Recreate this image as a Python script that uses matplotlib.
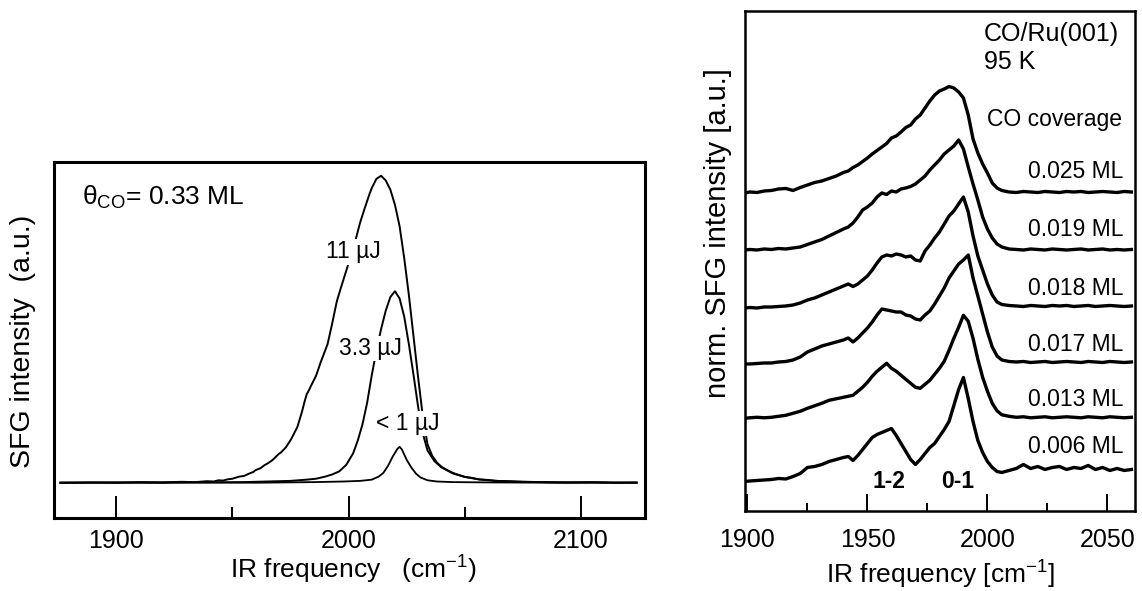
import numpy as np
import matplotlib
matplotlib.use("Agg")
import matplotlib.pyplot as plt
from matplotlib.ticker import MultipleLocator

plt.rcParams['font.family'] = ['Liberation Sans', 'DejaVu Sans']
plt.rcParams['mathtext.fontset'] = 'custom'
plt.rcParams['mathtext.rm'] = 'Liberation Sans'
plt.rcParams['mathtext.it'] = 'Liberation Sans:italic'
plt.rcParams['mathtext.bf'] = 'Liberation Sans:bold'

# left panel: theta_CO = 0.33 ML, three IR pulse energies (peak of 11 uJ = 1)
freq_11uJ = [1876, 1890, 1900, 1910, 1920, 1928, 1934, 1939, 1942, 1944,
             1946, 1948, 1950, 1953, 1955, 1957, 1959, 1960, 1962, 1964,
             1965, 1967, 1968, 1970, 1971, 1973, 1975, 1976, 1978, 1980,
             1981, 1982, 1983, 1984, 1986, 1988, 1990, 1991, 1993, 1995,
             1997, 1999, 2001, 2003, 2005, 2007, 2009, 2010, 2012, 2014,
             2016, 2018, 2020, 2022, 2024, 2026, 2028, 2030, 2032, 2034,
             2036, 2038, 2040, 2042, 2044, 2046, 2048, 2050, 2053, 2056,
             2060, 2064, 2068, 2075, 2085, 2095, 2105, 2115, 2124]
sfg_11uJ = [0.0, 0.001, 0.0, 0.002, 0.001, 0.003, 0.002, 0.005, 0.004, 0.008,
            0.007, 0.011, 0.013, 0.02, 0.022, 0.029, 0.035, 0.041, 0.047, 0.058,
            0.062, 0.072, 0.079, 0.094, 0.099, 0.115, 0.138, 0.152, 0.182, 0.232,
            0.262, 0.288, 0.302, 0.318, 0.348, 0.392, 0.432, 0.452, 0.52, 0.592,
            0.642, 0.69, 0.74, 0.79, 0.848, 0.895, 0.94, 0.96, 0.99, 1.0,
            0.985, 0.955, 0.905, 0.835, 0.73, 0.61, 0.475, 0.34, 0.215, 0.125,
            0.088, 0.066, 0.052, 0.043, 0.035, 0.029, 0.024, 0.019, 0.016, 0.011,
            0.009, 0.006, 0.005, 0.003, 0.002, 0.001, 0.002, 0.0, 0.001]

freq_3uJ = [1876, 1900, 1920, 1940, 1955, 1965, 1975, 1982, 1986, 1990,
            1993, 1996, 1999, 2002, 2004, 2006, 2008, 2010, 2012, 2014,
            2016, 2018, 2020, 2022, 2024, 2026, 2028, 2030, 2032, 2034,
            2037, 2040, 2045, 2050, 2056, 2063, 2075, 2090, 2105, 2124]
sfg_3uJ = [0.0, 0.001, 0.0, 0.001, 0.002, 0.004, 0.006, 0.01, 0.013, 0.02,
           0.027, 0.037, 0.058, 0.096, 0.138, 0.19, 0.26, 0.35, 0.43, 0.5,
           0.56, 0.605, 0.624, 0.6, 0.54, 0.45, 0.35, 0.245, 0.16, 0.105,
           0.07, 0.05, 0.03, 0.019, 0.011, 0.006, 0.003, 0.001, 0.001, 0.0]

freq_1uJ = [1876, 1900, 1930, 1960, 1985, 1998, 2005, 2010, 2013, 2015,
            2017, 2019, 2021, 2022, 2023, 2025, 2027, 2029, 2031, 2034,
            2038, 2045, 2060, 2090, 2124]
sfg_1uJ = [0.0, 0.0, 0.001, 0.0, 0.002, 0.004, 0.006, 0.01, 0.02, 0.032,
           0.055, 0.085, 0.11, 0.117, 0.108, 0.075, 0.05, 0.03, 0.017, 0.008,
           0.004, 0.002, 0.001, 0.0, 0.0]

pulse_labels = ["11 µJ", "3.3 µJ", "< 1 µJ"]

# right panel: normalised spectra for low CO coverages on Ru(001), 95 K
freq_cov = [1899, 1901, 1904, 1907, 1910, 1913, 1916, 1919, 1922, 1925,
            1928, 1931, 1934, 1937, 1940, 1942, 1944, 1946, 1948, 1950,
            1952, 1954, 1956, 1958, 1960, 1962, 1964, 1966, 1968, 1970,
            1972, 1974, 1976, 1978, 1980, 1982, 1984, 1986, 1988, 1990,
            1992, 1994, 1996, 1998, 2000, 2002, 2004, 2006, 2009, 2012,
            2015, 2018, 2021, 2024, 2027, 2030, 2033, 2036, 2039, 2042,
            2045, 2048, 2051, 2054, 2057, 2060]
coverage_labels = ["0.025 ML", "0.019 ML", "0.018 ML", "0.017 ML", "0.013 ML", "0.006 ML"]

sfg_0025 = [0, 1, 0.5, 2, 2.5, 4, 4.5, 2.5, 5.5, 8,
            10.5, 12, 14.5, 17, 20.5, 22, 25.5, 28, 31.5, 35,
            39, 42.5, 46, 49.5, 55, 57, 61, 65.5, 68, 74,
            78, 85, 92, 98, 102, 104, 106.5, 105, 101, 95,
            78, 54, 40, 29, 20, 10, 5, 2.5, 1, 0.5,
            1.5, 1, 0.5, 1.5, 1, 0.5, 1.5, 1, 1.5, 0.5,
            1, 1.5, 1, 0.5, 1.5, 1]
sfg_0019 = [0, 0.5, 0, 1, 0.5, 1.5, 1, 2, 3, 5.5,
            8, 10.5, 14, 17.5, 21, 23, 27, 33, 40, 43,
            47, 53, 57, 55.5, 59, 58, 61, 62, 63.5, 66,
            70, 74, 80, 85, 90, 96, 100, 104, 110, 101,
            83, 66, 50, 33, 21, 12, 6, 3, 1, 0.5,
            0, 1, 0.5, 0, 1, 0.5, 0, 0.5, 1, 0,
            0.5, 1, 0, 0.5, 0, 0.5]
sfg_0018 = [0, 0.5, 0, 1, 1, 1.5, 2, 3, 5, 8,
            10, 13, 16, 19, 22, 24, 21.5, 24, 28, 32,
            38, 45, 51, 53, 52, 54, 53, 51, 52, 48,
            47, 57, 63, 70, 76, 84, 92, 97, 104, 111,
            96, 72, 52, 38, 24, 13, 6, 3.5, 2.5, 2,
            1.5, 2.5, 2, 1.5, 2.5, 2, 2.5, 1.5, 2, 2.5,
            1.5, 2, 2.5, 2, 1.5, 2]
sfg_0017 = [0, 0, 0.5, 1, 1, 2, 2.5, 4, 7, 12,
            15, 18, 20, 22, 24, 26, 22, 26, 31, 36,
            42, 49, 55, 54, 53, 52, 52, 49, 48, 45,
            44, 49, 53, 60, 68, 76, 86, 93, 100, 104,
            109, 86, 68, 50, 32, 17, 8, 4, 2.5, 2,
            2.5, 1.5, 2, 2.5, 1.5, 2, 2.5, 2, 1.5, 2.5,
            2, 1.5, 2.5, 2, 1.5, 2]
sfg_0013 = [0, 0.5, 1, 0.5, 1, 2, 3, 5, 7, 10,
            12.5, 15, 18, 19.5, 21, 22, 23, 27, 31, 36,
            42, 47, 51, 55, 50, 47, 43, 39, 35, 31,
            30, 34, 38, 44, 50, 57, 68, 80, 91, 103,
            97, 80, 59, 41, 27, 15, 7.5, 3.5, 2, 1,
            1.5, 0.5, 1, 1.5, 0.5, 1, 1.5, 1, 0.5, 1.5,
            1, 0.5, 1.5, 1, 0.5, 1]
sfg_0006 = [0, 0.5, 1, 1.5, 2, 3, 2.5, 5, 8, 14,
            15, 17, 20, 22, 24, 25, 21, 26, 32, 38,
            44, 47, 49, 51, 53, 46, 38, 30, 22, 17,
            22, 28, 34, 38, 45, 52, 60, 76, 92, 104,
            83, 60, 41, 29, 20, 14, 10, 9, 11, 13,
            17, 13, 15, 12, 14, 15, 12, 14, 13, 16,
            12, 14, 11, 13, 11, 12]


def plot_pulse_energy(ax):
    ax.plot(freq_11uJ, sfg_11uJ, color='black', lw=1.4, zorder=2)
    ax.plot(freq_3uJ, sfg_3uJ, color='black', lw=1.4, zorder=2)
    ax.plot(freq_1uJ, sfg_1uJ, color='black', lw=1.3, zorder=2)

    label_pos = [(2002.2, 0.752), (2009.3, 0.437), (2025.6, 0.193)]
    for label, (x, y) in zip(pulse_labels, label_pos):
        ax.text(x, y, label, ha='center', va='center', fontsize=16.5, zorder=3,
                bbox=dict(facecolor='white', edgecolor='none', pad=1.0))
    ax.text(1885.3, 0.93, r"θ$_{\mathrm{CO}}$= 0.33 ML", ha='left', va='center', fontsize=19)

    ax.set_xlim(1873.2, 2127.7)
    ax.set_ylim(-0.114, 1.044)
    ax.set_xticks([1900, 2000, 2100])
    ax.xaxis.set_minor_locator(MultipleLocator(50))
    ax.set_yticks([])
    ax.tick_params(axis='x', which='major', direction='in', length=15.8, width=1.4,
                   pad=8.0, labelsize=18)
    ax.tick_params(axis='x', which='minor', direction='in', length=7.9, width=1.4)
    ax.set_xlabel("IR frequency   (cm$^{-1}$)", fontsize=19)
    ax.xaxis.set_label_coords(0.5067, -0.147)
    ax.xaxis.label.set_va('center')
    ax.set_ylabel("SFG intensity  (a.u.)", fontsize=20.5)
    ax.yaxis.set_label_coords(-0.0523, 0.4952)
    ax.yaxis.label.set_va('center')
    for spine in ax.spines.values():
        spine.set_linewidth(2.2)


def plot_coverage(ax):
    spectra = [sfg_0025, sfg_0019, sfg_0018, sfg_0017, sfg_0013, sfg_0006]
    offsets = [317.7, 260.7, 202.7, 146.7, 92.4, 29.2]
    label_y = [339.5, 281, 222.5, 166, 111, 64.5]
    for values, offset, label, ly in zip(spectra, offsets, coverage_labels, label_y):
        ax.plot(freq_cov, np.array(values) + offset, color='black', lw=2.4)
        ax.text(2056.5, ly, label, ha='right', va='center', fontsize=16.5)

    ax.text(1998.6, 476.5, "CO/Ru(001)", ha='left', va='center', fontsize=18)
    ax.text(1998.6, 448.5, "95 K", ha='left', va='center', fontsize=18)
    ax.text(2056.1, 391, "CO coverage", ha='right', va='center', fontsize=16.5)
    ax.text(1959, 29.5, "1-2", ha='center', va='center', fontsize=16.5, fontweight='bold')
    ax.text(1987.6, 29.5, "0-1", ha='center', va='center', fontsize=16.5, fontweight='bold')

    ax.set_xlim(1899, 2061.5)
    ax.set_ylim(0, 499.7)
    ax.set_xticks([1900, 1950, 2000, 2050])
    ax.xaxis.set_minor_locator(MultipleLocator(25))
    ax.set_yticks([])
    ax.tick_params(axis='x', which='major', direction='in', length=12, width=1.4,
                   pad=12.5, labelsize=18)
    ax.tick_params(axis='x', which='minor', direction='in', length=5.8, width=1.4)
    ax.set_xlabel("IR frequency [cm$^{-1}$]", fontsize=19)
    ax.xaxis.set_label_coords(0.5, -0.1287)
    ax.xaxis.label.set_va('center')
    ax.set_ylabel("norm. SFG intensity [a.u.]", fontsize=21)
    ax.yaxis.set_label_coords(-0.0692, 0.5557)
    ax.yaxis.label.set_va('center')
    for spine in ax.spines.values():
        spine.set_linewidth(1.8)


if __name__ == "__main__":
    fig = plt.figure(figsize=(11.42, 5.91), dpi=100)
    left_ax = fig.add_axes([0.0472, 0.1240, 0.5178, 0.6014])
    right_ax = fig.add_axes([0.6524, 0.1359, 0.3415, 0.8455])

    plot_pulse_energy(left_ax)
    plot_coverage(right_ax)

    fig.savefig("out.png", dpi=100)
